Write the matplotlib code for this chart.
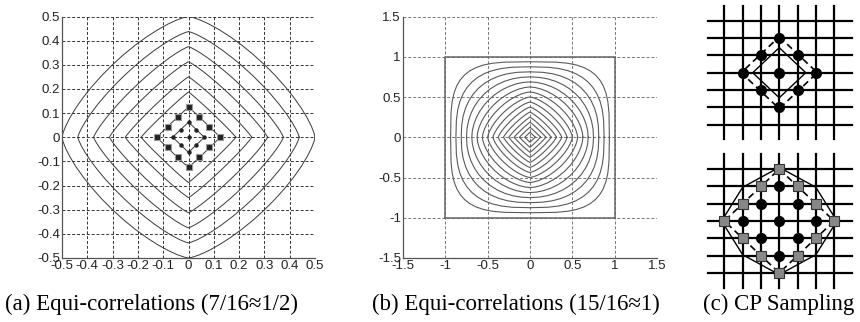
import numpy as np
import matplotlib
matplotlib.use("Agg")
import matplotlib.pyplot as plt

# (a) equi-correlation contours, levels k/16 up to 1/2
levels_a = [0.0625, 0.125, 0.1875, 0.25, 0.3125, 0.375, 0.4375, 0.5]
shape_a = [1.0, 1.02, 1.05, 1.09, 1.14, 1.2, 1.28, 1.36]
ticks_a = [-0.5, -0.4, -0.3, -0.2, -0.1, 0, 0.1, 0.2, 0.3, 0.4, 0.5]
ticklabels_a = ["-0.5", "-0.4", "-0.3", "-0.2", "-0.1", "0", "0.1", "0.2", "0.3", "0.4", "0.5"]
# sample points on the two inner contours
dots_x = [0, 0, -0.031, 0.031, -0.0625, 0.0625, -0.031, 0.031, 0]
dots_y = [0, 0.0625, 0.031, 0.031, 0, 0, -0.031, -0.031, -0.0625]
sq_x = [0, -0.042, 0.042, -0.083, 0.083, -0.125, 0.125, -0.083, 0.083, -0.042, 0.042, 0]
sq_y = [0.125, 0.083, 0.083, 0.042, 0.042, 0, 0, -0.042, -0.042, -0.083, -0.083, -0.125]

# (b) equi-correlation contours, levels k/16 up to 15/16
levels_b = [0.0625, 0.125, 0.1875, 0.25, 0.3125, 0.375, 0.4375, 0.5,
            0.5625, 0.625, 0.6875, 0.75, 0.8125, 0.875, 0.9375]
shape_b = [1.0, 1.03, 1.06, 1.11, 1.18, 1.26, 1.35, 1.45,
           1.57, 1.7, 1.88, 2.1, 2.4, 2.85, 3.6]
ticks_b = [-1.5, -1, -0.5, 0, 0.5, 1, 1.5]
ticklabels_b = ["-1.5", "-1", "-0.5", "0", "0.5", "1", "1.5"]
box_b = [-1, 1]

# (c) CP sampling sketches, grid units
grid_c = [-3, -2, -1, 0, 1, 2, 3]
cp_x = [0, -1, 1, -2, 0, 2, -1, 1, 0]
cp_y = [2, 1, 1, 0, 0, 0, -1, -1, -2]
ext_x = [0, -1, 1, -2, 2, -3, 3, -2, 2, -1, 1, 0]
ext_y = [3, 2, 2, 1, 1, 0, 0, -1, -1, -2, -2, -3]
inner_r = 1.45
dash_r_top = 2.08
oct_x = [0, 2.0, 3.15, 2.0, 0, -2.0, -3.15, -2.0, 0]
oct_y = [3.1, 1.95, 0, -1.95, -3.1, -1.95, 0, 1.95, 3.1]

captions = ["(a) Equi-correlations (7/16\u22481/2)",
            "(b) Equi-correlations (15/16\u22481)",
            "(c) CP Sampling"]


def lp_ball(r, p, n=64):
    t = np.linspace(0, 2 * np.pi, n + 1)
    c, s = np.cos(t), np.sin(t)
    x = r * np.sign(c) * np.abs(c) ** (2.0 / p)
    y = r * np.sign(s) * np.abs(s) ** (2.0 / p)
    return x, y


def style_axes(ax, ticks, labels, gcol):
    ax.set_xlim(ticks[0], ticks[-1])
    ax.set_ylim(ticks[0], ticks[-1])
    ax.set_xticks(ticks)
    ax.set_yticks(ticks)
    ax.set_xticklabels(labels)
    ax.set_yticklabels(labels)
    ax.tick_params(length=0, pad=1.5, labelsize=9.5, colors="#222222")
    for side in ["top", "right"]:
        ax.spines[side].set_visible(False)
    for side in ["left", "bottom"]:
        ax.spines[side].set_color("#555555")
        ax.spines[side].set_linewidth(0.9)
    ax.grid(True, color=gcol, linestyle=(0, (3, 2)), linewidth=0.7)
    ax.set_axisbelow(True)


plt.rcParams["font.family"] = ["Liberation Sans", "DejaVu Sans"]
fig = plt.figure(figsize=(8.6, 3.22), dpi=100)
W, H = 860.0, 322.0

# ---- (a)
ax1 = fig.add_axes([62 / W, (H - 258) / H, 253 / W, 241.5 / H])
style_axes(ax1, ticks_a, ticklabels_a, "#333333")
for r, p in zip(levels_a, shape_a):
    x, y = lp_ball(r, p)
    ax1.plot(x, y, color="#3a3a3a", lw=0.7)
ax1.plot(sq_x, sq_y, "s", ms=4.5, mfc="#222222", mec="#999999", mew=0.8, ls="none")
ax1.plot(dots_x, dots_y, "o", ms=2.2, color="#222222", ls="none")

# ---- (b)
ax2 = fig.add_axes([403 / W, (H - 258) / H, 254 / W, 241.5 / H])
style_axes(ax2, ticks_b, ticklabels_b, "#777777")
ax2.plot([box_b[0], box_b[1], box_b[1], box_b[0], box_b[0]],
         [box_b[0], box_b[0], box_b[1], box_b[1], box_b[0]], color="#666666", lw=1.1)
for r, p in zip(levels_b, shape_b):
    x, y = lp_ball(r, p, n=48)
    ax2.plot(x, y, color="#5a5a5a", lw=0.8)

# ---- (c) two sketches
def sketch(ax):
    ax.set_xlim(-4.2, 4.2)
    ax.set_ylim(-4.0, 4.0)
    ax.axis("off")
    for g in grid_c:
        ax.plot([g, g], [-3.85, 3.85], color="black", lw=1.6, clip_on=False)
        ax.plot([-3.88, 4.0], [g, g], color="black", lw=1.6, clip_on=False)


ax3 = fig.add_axes([702.4 / W, (H - 141.9) / H, 153.7 / W, 138.4 / H])
sketch(ax3)
ax3.plot([0, inner_r, 0, -inner_r, 0], [inner_r, 0, -inner_r, 0, inner_r], color="black", lw=1.0)
ax3.plot([0, dash_r_top, 0, -dash_r_top, 0], [dash_r_top, 0, -dash_r_top, 0, dash_r_top],
         color="black", lw=1.2, ls=(0, (4, 2.5)))
ax3.plot(cp_x, cp_y, "o", ms=7, color="black", ls="none", zorder=5)

ax4 = fig.add_axes([702.4 / W, (H - 290.2) / H, 153.7 / W, 138.4 / H])
sketch(ax4)
ax4.plot(oct_x, oct_y, color="black", lw=1.0)
ax4.plot([0, 3, 0, -3, 0], [3, 0, -3, 0, 3], color="black", lw=1.2, ls=(0, (4, 2.5)))
ax4.plot(cp_x, cp_y, "o", ms=7, color="black", ls="none", zorder=5)
ax4.plot(ext_x, ext_y, "s", ms=6.5, mfc="#888888", mec="#333333", mew=0.8, ls="none", zorder=6)

# captions
cap_x = [5, 372, 703]
for cx, txt in zip(cap_x, captions):
    fig.text(cx / W, 1 - 304 / H, txt, family=["Liberation Serif", "DejaVu Serif"],
             fontsize=16.5, va="center", ha="left")

fig.savefig("out.png", dpi=100)
